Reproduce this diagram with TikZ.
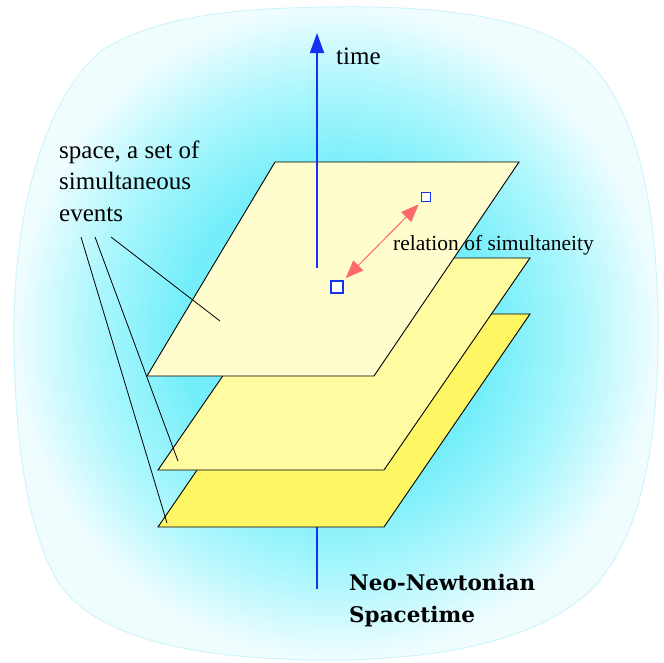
\documentclass[tikz,border=0pt]{standalone}
\usepackage{fontspec}
\setmainfont{Liberation Serif}
\newfontfamily\titlefont{DejaVu Serif}
\usetikzlibrary{arrows.meta}
\definecolor{cyanc}{RGB}{115,238,250}
\definecolor{cyanm}{RGB}{175,247,253}
\definecolor{cyanp}{RGB}{240,253,255}
\definecolor{blobline}{RGB}{200,244,250}
\definecolor{planeA}{RGB}{255,252,205}
\definecolor{planeB}{RGB}{255,251,160}
\definecolor{planeC}{RGB}{255,246,100}
\definecolor{timeblue}{RGB}{20,50,240}
\definecolor{relred}{RGB}{255,105,105}
\pgfdeclareradialshading{blobshade}{\pgfpoint{0bp}{0bp}}{color(0bp)=(cyanc); color(12bp)=(cyanc); color(19bp)=(cyanm); color(25bp)=(cyanp); color(50bp)=(cyanp)}
\tikzset{
  plane/.style={draw=black, line width=0.9pt, line join=miter},
  leader/.style={draw=black, line width=0.8pt},
  lbl/.style={inner sep=0pt, font=\fontsize{25}{31.5}\selectfont},
  rellbl/.style={inner sep=0pt, font=\fontsize{21.5}{26}\selectfont},
  titlelbl/.style={inner sep=0pt, font=\titlefont\bfseries\fontsize{21.5}{32}\selectfont},
  event/.style={draw=timeblue, line width=1.3pt, fill=white, inner sep=0pt, minimum size=#1},
  timeaxis/.style={draw=timeblue, line width=1.8pt}
}
\begin{document}
\begin{tikzpicture}[x=1pt,y=-1pt]
\useasboundingbox[fill=white] (0,0) rectangle (664,662);
% background blob
\path[draw=blobline, line width=0.8pt, shading=blobshade]
  (330,7) .. controls (450,5) and (530,20) .. (575,50)
  .. controls (635,95) and (658,200) .. (658,330)
  .. controls (658,450) and (640,530) .. (600,580)
  .. controls (550,640) and (440,660) .. (330,660)
  .. controls (200,660) and (100,640) .. (60,585)
  .. controls (25,530) and (14,430) .. (14,330)
  .. controls (14,200) and (50,90) .. (104,49)
  .. controls (160,15) and (240,8) .. (330,7) -- cycle;
% lower part of time axis
\coordinate (tlow1) at (317,527);
\coordinate (tlow2) at (317,589);
\draw[timeaxis] (tlow1) -- (tlow2);
% planes
\coordinate (C1) at (158,527); \coordinate (C2) at (384,527);
\coordinate (C3) at (530,314); \coordinate (C4) at (304,314);
\path[plane, fill=planeC] (C1) -- (C2) -- (C3) -- (C4) -- cycle;
\coordinate (B1) at (158,470); \coordinate (B2) at (384,470);
\coordinate (B3) at (530,258); \coordinate (B4) at (304,258);
\path[plane, fill=planeB] (B1) -- (B2) -- (B3) -- (B4) -- cycle;
\coordinate (A1) at (147,376); \coordinate (A2) at (374,376);
\coordinate (A3) at (519,162); \coordinate (A4) at (275,162);
\path[plane, fill=planeA] (A1) -- (A2) -- (A3) -- (A4) -- cycle;
% upper part of time axis
\coordinate (tbot) at (317,268);
\coordinate (ttop) at (317,33);
\draw[timeaxis, -{Triangle[length=20pt,width=14pt]}] (tbot) -- (ttop);
\node[lbl, anchor=base west] (time) at (336,64) {time};
% events and relation
\node[event=12pt] (ev1) at (337,287) {};
\node[event=9pt] (ev2) at (426,197) {};
\draw[relred, line width=1pt, {Triangle[length=18pt,width=14pt]}-{Triangle[length=18pt,width=14pt]}, shorten <=3pt, shorten >=3pt] (ev1) -- (ev2);
\node[rellbl, anchor=base west] (rel) at (393,250) {relation of simultaneity};
% space label and leaders
\node[lbl, anchor=base west, align=left] (space) at (59,221) {space, a set of\\simultaneous\\events};
\coordinate (s1) at (81,237); \coordinate (e1) at (167,523);
\coordinate (s2) at (95,237); \coordinate (e2) at (178,461);
\coordinate (s3) at (111,237); \coordinate (e3) at (220,321);
\draw[leader] (s1) -- (e1);
\draw[leader] (s2) -- (e2);
\draw[leader] (s3) -- (e3);
% title
\node[titlelbl, anchor=base west, align=left] (title) at (349,622) {Neo-Newtonian\\Spacetime};
\end{tikzpicture}
\end{document}
